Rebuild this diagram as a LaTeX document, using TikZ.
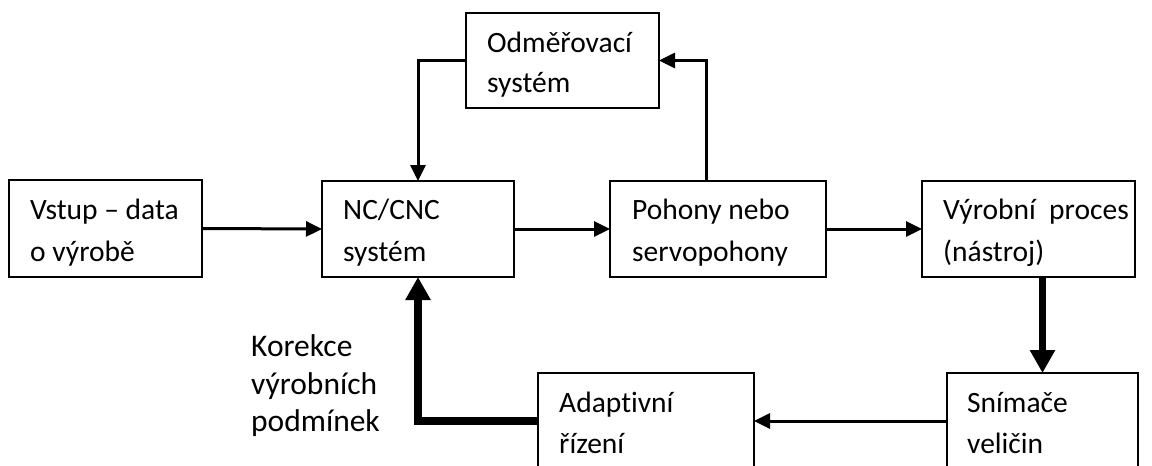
\documentclass[tikz,border=0pt]{standalone}
\usepackage{fontspec}
\setmainfont[Ligatures=NoCommon]{Carlito}
\usetikzlibrary{arrows.meta}
\begin{document}
\begin{tikzpicture}[x=1pt,y=-1pt,
  boxnode/.style={draw=black, line width=2.2pt, rectangle, inner sep=0pt, outer sep=0pt},
  txt/.style={anchor=base west, inner sep=0pt, font=\fontsize{29.5}{35}\selectfont},
  ktxt/.style={anchor=base west, inner sep=0pt, font=\fontsize{31.5}{38}\selectfont},
  conn/.style={line width=3pt, -{Triangle[length=16pt,width=15pt]}},
  thickconn/.style={line width=7.5pt, -{Triangle[length=23pt,width=24pt]}}]
\clip (0,0) rectangle (1152,466);
\fill[white] (0,0) rectangle (1152,466);
% boxes
\node[boxnode, minimum width=193, minimum height=97] (vstup) at (105.5,228.5) {};
\node[boxnode, minimum width=192, minimum height=96] (nc) at (418,229) {};
\node[boxnode, minimum width=216, minimum height=96] (pohony) at (718,229) {};
\node[boxnode, minimum width=213, minimum height=96] (vyrobni) at (1028.5,229) {};
\node[boxnode, minimum width=193, minimum height=95] (odm) at (562.5,60.5) {};
\node[boxnode, minimum width=216, minimum height=96] (adapt) at (646,421) {};
\node[boxnode, minimum width=191, minimum height=96] (snim) at (1042.5,421) {};
% texts
\node[txt] (t1a) at (30,219) {Vstup – data};
\node[txt] (t1b) at (30,261) {o výrobě};
\node[txt] (t2a) at (343,219) {NC/CNC};
\node[txt] (t2b) at (343,261) {systém};
\node[txt] (t3a) at (632,219) {Pohony nebo};
\node[txt] (t3b) at (632,261) {servopohony};
\node[txt] (t4a) at (943,219) {Výrobní\ \ proces};
\node[txt] (t4b) at (943,261) {(nástroj)};
\node[txt] (t5a) at (487,52) {Odměřovací};
\node[txt] (t5b) at (487,92) {systém};
\node[txt] (t6a) at (559,412) {Adaptivní};
\node[txt] (t6b) at (559,453) {řízení};
\node[txt] (t7a) at (967,412) {Snímače};
\node[txt] (t7b) at (967,453) {veličin};
\node[ktxt] (k1) at (251,356) {Korekce};
\node[ktxt] (k2) at (251,394) {výrobních};
\node[ktxt] (k3) at (251,431) {podmínek};
% connectors
\coordinate (pup) at (706,181);
\draw[conn] (vstup.east) -- (nc.west);
\draw[conn] (nc.east) -- (pohony.west);
\draw[conn] (pohony.east) -- (vyrobni.west);
\draw[conn] (pup) |- (odm.east);
\draw[conn] (odm.west) -| (nc.north);
\draw[conn] (snim.west) -- (adapt.east);
\draw[thickconn] (snim.north |- vyrobni.south) -- (snim.north);
\draw[thickconn] (adapt.west) -| (nc.south);
\end{tikzpicture}
\end{document}
